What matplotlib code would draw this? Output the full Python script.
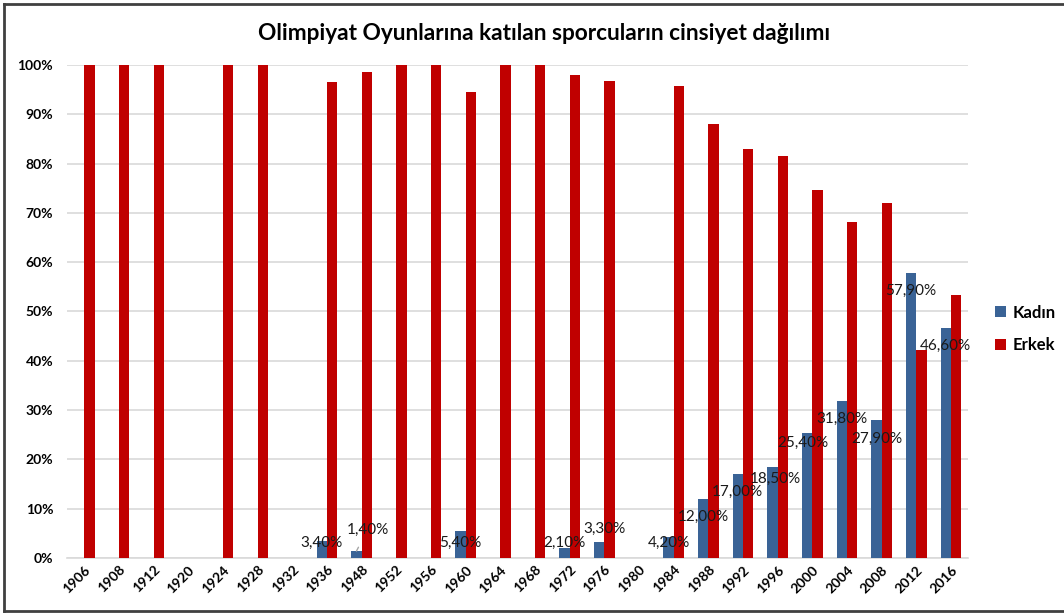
import matplotlib.pyplot as plt
import numpy as np
from matplotlib.lines import Line2D
from matplotlib.ticker import FuncFormatter

years = ['1906', '1908', '1912', '1920', '1924', '1928', '1932', '1936', '1948',
         '1952', '1956', '1960', '1964', '1968', '1972', '1976', '1980', '1984',
         '1988', '1992', '1996', '2000', '2004', '2008', '2012', '2016']
kadin = [0, 0, 0, 0, 0, 0, 0, 3.4, 1.4, 0, 0, 5.4, 0, 0, 2.1, 3.3, 0, 4.2,
         12.0, 17.0, 18.5, 25.4, 31.8, 27.9, 57.9, 46.6]
erkek = [100, 100, 100, 0, 100, 100, 0, 96.6, 98.6, 100, 100, 94.6, 100, 100,
         97.9, 96.7, 0, 95.8, 88.0, 83.0, 81.5, 74.6, 68.2, 72.1, 42.1, 53.4]

# label offsets (pixels) for the Kadın data labels, as placed in the original
label_dx = {7: 0, 8: 11, 11: 0, 14: 0, 15: 5, 17: 0, 18: 0, 19: 0, 20: 3,
            21: -4, 22: 0, 23: 0, 24: 0, 25: 0}
label_dy = {7: -2, 8: 21, 11: -12, 14: 5, 15: 13, 17: -6, 18: -18, 19: -18,
            20: -12, 21: -10, 22: -18, 23: -18, 24: -18, 25: -18}

BLUE = '#3A6396'
RED = '#C00000'
FONT = 'Lato'

fig = plt.figure(figsize=(10.64, 6.15), dpi=100)
ax = fig.add_axes([0.063, 0.0927, 0.847, 0.8016])

x = np.arange(len(years))
w = 0.30
ax.bar(x - w / 2, kadin, w, color=BLUE, label='Kadın', zorder=3)
ax.bar(x + w / 2, erkek, w, color=RED, label='Erkek', zorder=3)

for i, v in enumerate(kadin):
    if v <= 0:
        continue
    txt = f'{v:.2f}%'.replace('.', ',')
    arrow = None
    if i == 8:
        arrow = dict(arrowstyle='-', color='#A6A6A6', lw=1, shrinkA=6, shrinkB=0)
    ax.annotate(txt, xy=(x[i] - w / 2, v), xytext=(label_dx[i], label_dy[i]),
                textcoords='offset pixels', ha='center', va='center',
                fontsize=11, family=FONT, color='#1A1A1A', zorder=5,
                arrowprops=arrow)

ax.set_xlim(-0.5, len(years) - 0.5)
ax.set_ylim(0, 100)
ax.set_yticks(np.arange(0, 101, 10))
ax.yaxis.set_major_formatter(FuncFormatter(lambda v, p: f'{v:.0f}%'))
ax.set_xticks(x)
ax.set_xticklabels(years, rotation=45, ha='right', rotation_mode='anchor')
for lab in ax.get_xticklabels() + ax.get_yticklabels():
    lab.set_fontweight('bold')
    lab.set_family(FONT)
    lab.set_fontsize(10)
ax.tick_params(axis='y', length=0, pad=10)
ax.tick_params(axis='x', length=0, pad=4)

ax.grid(axis='y', color='#D9D9D9', lw=1.2, zorder=0)
for s in ['top', 'right', 'left']:
    ax.spines[s].set_visible(False)
ax.spines['bottom'].set_color('#D9D9D9')
ax.spines['bottom'].set_linewidth(1.2)

fig.text(0.511, 0.945, 'Olimpiyat Oyunlarına katılan sporcuların cinsiyet dağılımı',
         ha='center', va='center', fontsize=16.3, fontweight='bold', family=FONT)

leg = fig.legend(loc='center left', bbox_to_anchor=(0.921, 0.465), frameon=False,
                 prop={'family': FONT, 'weight': 'bold', 'size': 12},
                 handlelength=0.65, handleheight=0.65, handletextpad=0.4,
                 labelspacing=1.0)

# outer frame of the screenshot
fig.add_artist(Line2D([0.004, 0.004], [0.007, 0.994], color='#404040', lw=2,
                      transform=fig.transFigure))
fig.add_artist(Line2D([0.004, 1.0], [0.994, 0.994], color='#404040', lw=2,
                      transform=fig.transFigure))
fig.add_artist(Line2D([0.004, 1.0], [0.007, 0.007], color='#404040', lw=2,
                      transform=fig.transFigure))

fig.savefig('out.png', dpi=100)
